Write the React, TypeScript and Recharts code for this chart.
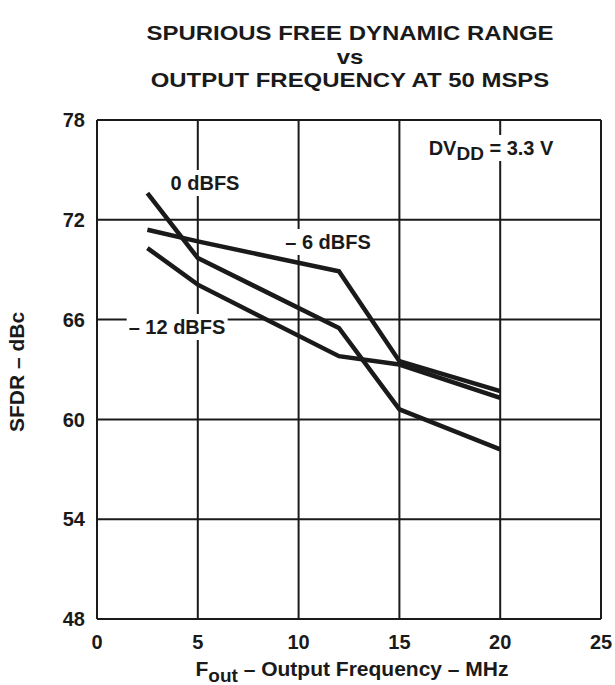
import { CartesianGrid, Line, LineChart, XAxis, YAxis } from "recharts";

// output frequency, MHz
const freq = [2.5, 5, 12, 15, 20];
// SFDR in dBc for each input level
const sfdr0dB = [73.6, 69.7, 65.5, 60.6, 58.2];
const sfdr6dB = [71.4, 70.7, 68.9, 63.5, 61.7];
const sfdr12dB = [70.3, 68.1, 63.8, 63.3, 61.3];

const xTicks = [0, 5, 10, 15, 20, 25];
const yTicks = [48, 54, 60, 66, 72, 78];

const data = freq.map((f, i) => ({
    f,
    s0: sfdr0dB[i],
    s6: sfdr6dB[i],
    s12: sfdr12dB[i],
}));

const INK = "#1a1a1a";
const FONT = "'Liberation Sans', Arial, Helvetica, sans-serif";

const tickStyle = { fontSize: 20, fontWeight: 700, fill: INK, fontFamily: FONT };

const Label: React.FC<{ x: number; y: number; children: React.ReactNode }> = ({ x, y, children }) => (
    <div style={{
        position: "absolute", left: x, top: y, transform: "translate(-50%, -50%)",
        background: "#fff", padding: "3px 2px", lineHeight: 1, whiteSpace: "nowrap",
        fontSize: 20, fontWeight: 700,
    }}>
        {children}
    </div>
);

export default function App() {
    return (
        <div style={{ position: "absolute", left: 0, top: 0, width: 615, height: 685, background: "#fff", fontFamily: FONT, color: INK }}>
            <div style={{ position: "absolute", left: 350, top: 21, transform: "translateX(-50%) scaleX(1.14)", textAlign: "center", fontSize: 21, fontWeight: 700, lineHeight: "23.5px", whiteSpace: "nowrap" }}>
                <div>SPURIOUS FREE DYNAMIC RANGE</div>
                <div>vs</div>
                <div>OUTPUT FREQUENCY AT 50 MSPS</div>
            </div>

            <LineChart width={615} height={685} data={data} margin={{ top: 120, right: 14, bottom: 36, left: 57 }}>
                <CartesianGrid stroke={INK} strokeWidth={2} />
                <XAxis dataKey="f" type="number" domain={[0, 25]} ticks={xTicks} height={30}
                    tick={tickStyle} tickLine={false} tickSize={6} tickMargin={10}
                    axisLine={{ stroke: INK, strokeWidth: 2 }} />
                <YAxis type="number" domain={[48, 78]} ticks={yTicks} width={40}
                    tick={tickStyle} tickLine={false} tickSize={6} tickMargin={6}
                    axisLine={{ stroke: INK, strokeWidth: 2 }} />
                <Line type="linear" dataKey="s0" stroke={INK} strokeWidth={4.5} dot={false} isAnimationActive={false} />
                <Line type="linear" dataKey="s6" stroke={INK} strokeWidth={4.5} dot={false} isAnimationActive={false} />
                <Line type="linear" dataKey="s12" stroke={INK} strokeWidth={4.5} dot={false} isAnimationActive={false} />
            </LineChart>

            <Label x={205} y={183}>0 dBFS</Label>
            <Label x={328} y={242}>– 6 dBFS</Label>
            <Label x={177} y={327}>– 12 dBFS</Label>
            <Label x={491} y={148}>
                DV<span style={{ position: "relative", top: 5, fontSize: 19 }}>DD</span> = 3.3 V
            </Label>

            <div style={{ position: "absolute", left: 17, top: 372, transform: "translate(-50%, -50%) rotate(-90deg)", fontSize: 21, fontWeight: 700, whiteSpace: "nowrap" }}>
                SFDR – dBc
            </div>
            <div style={{ position: "absolute", left: 352, top: 668, transform: "translate(-50%, -50%)", fontSize: 21, fontWeight: 700, whiteSpace: "nowrap", lineHeight: 1 }}>
                F<span style={{ position: "relative", top: 6, fontSize: 19 }}>out</span> – Output Frequency – MHz
            </div>
        </div>
    );
}
